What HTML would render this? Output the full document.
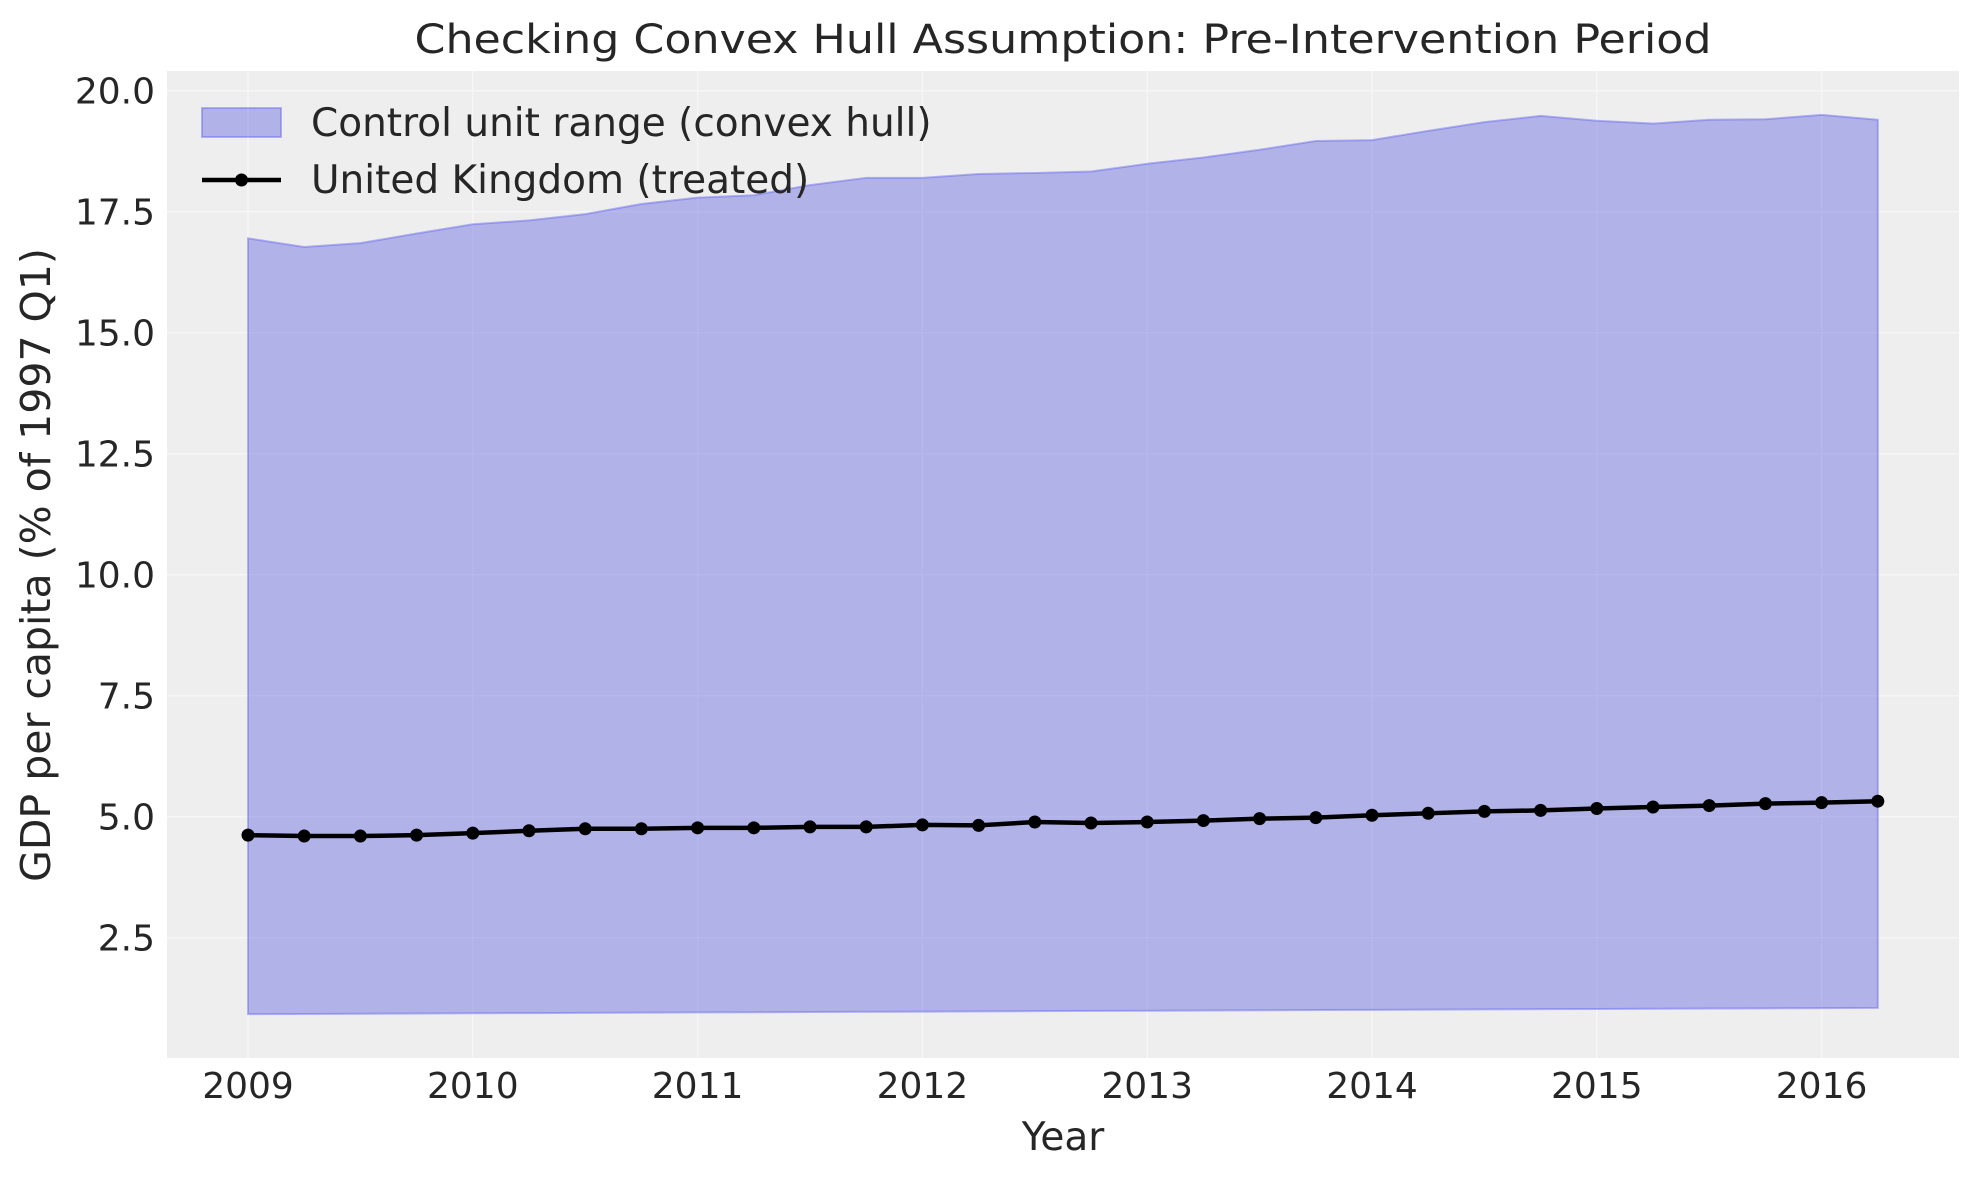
<!DOCTYPE html>
<html><head><meta charset="utf-8"><style>
html,body{margin:0;padding:0;background:#fff;}
svg{display:block;font-family:"DejaVu Sans","Liberation Sans",sans-serif;}
</style></head><body>
<svg width="1979" height="1178" viewBox="0 0 1979 1178" xmlns="http://www.w3.org/2000/svg">
<rect x="0" y="0" width="1979" height="1178" fill="#fff"/>
<rect x="167" y="71" width="1792" height="987" fill="#eeeeee"/>
<g stroke="#f6f6f6" stroke-width="1.5">
<line x1="167" x2="1959" y1="90.7" y2="90.7"/><line x1="167" x2="1959" y1="211.7" y2="211.7"/>
<line x1="167" x2="1959" y1="332.7" y2="332.7"/><line x1="167" x2="1959" y1="453.7" y2="453.7"/>
<line x1="167" x2="1959" y1="574.7" y2="574.7"/><line x1="167" x2="1959" y1="695.7" y2="695.7"/>
<line x1="167" x2="1959" y1="816.7" y2="816.7"/><line x1="167" x2="1959" y1="937.7" y2="937.7"/>
<line y1="71" y2="1058" x1="248" x2="248"/><line y1="71" y2="1058" x1="472.8" x2="472.8"/>
<line y1="71" y2="1058" x1="697.6" x2="697.6"/><line y1="71" y2="1058" x1="922.4" x2="922.4"/>
<line y1="71" y2="1058" x1="1147.2" x2="1147.2"/><line y1="71" y2="1058" x1="1372" x2="1372"/>
<line y1="71" y2="1058" x1="1596.8" x2="1596.8"/><line y1="71" y2="1058" x1="1821.6" x2="1821.6"/>
</g>
<polygon id="hull" fill="rgba(90,95,225,0.42)" stroke="rgba(100,100,240,0.45)" stroke-width="2" points=""/>
<polyline id="uk" fill="none" stroke="#000" stroke-width="4.5" points=""/>
<g id="dots"></g>
<g fill="#262626" font-size="36">
<text x="155" y="103.7" text-anchor="end">20.0</text>
<text x="155" y="224.7" text-anchor="end">17.5</text>
<text x="155" y="345.7" text-anchor="end">15.0</text>
<text x="155" y="466.7" text-anchor="end">12.5</text>
<text x="155" y="587.7" text-anchor="end">10.0</text>
<text x="155" y="708.7" text-anchor="end">7.5</text>
<text x="155" y="829.7" text-anchor="end">5.0</text>
<text x="155" y="950.7" text-anchor="end">2.5</text>
<text x="248" y="1098" text-anchor="middle">2009</text>
<text x="472.8" y="1098" text-anchor="middle">2010</text>
<text x="697.6" y="1098" text-anchor="middle">2011</text>
<text x="922.4" y="1098" text-anchor="middle">2012</text>
<text x="1147.2" y="1098" text-anchor="middle">2013</text>
<text x="1372" y="1098" text-anchor="middle">2014</text>
<text x="1596.8" y="1098" text-anchor="middle">2015</text>
<text x="1821.6" y="1098" text-anchor="middle">2016</text>
</g>
<text x="1063" y="1150" text-anchor="middle" font-size="39" fill="#262626">Year</text>
<text transform="translate(50,565) rotate(-90)" text-anchor="middle" font-size="41" fill="#262626">GDP per capita (% of 1997 Q1)</text>
<text x="1063" y="53" text-anchor="middle" font-size="40" fill="#262626" textLength="1297" lengthAdjust="spacingAndGlyphs">Checking Convex Hull Assumption: Pre-Intervention Period</text>
<rect x="202" y="108" width="79" height="29" fill="rgba(90,95,225,0.42)" stroke="rgba(100,100,240,0.45)" stroke-width="2"/>
<text x="311" y="136" font-size="39" fill="#262626">Control unit range (convex hull)</text>
<line x1="202" x2="281" y1="180" y2="180" stroke="#000" stroke-width="4.5"/>
<circle cx="241.5" cy="180" r="6.5" fill="#000"/>
<text x="311" y="193" font-size="39" fill="#262626">United Kingdom (treated)</text>
</svg>
<script>
(function(){
var up=[16.95,16.77,16.85,17.05,17.24,17.32,17.45,17.66,17.79,17.84,18.05,18.2,18.2,18.28,18.3,18.33,18.49,18.62,18.78,18.96,18.98,19.17,19.35,19.48,19.38,19.32,19.4,19.41,19.5,19.4];
var uk=[4.62,4.60,4.60,4.62,4.66,4.71,4.75,4.75,4.77,4.77,4.79,4.79,4.83,4.82,4.89,4.87,4.89,4.92,4.96,4.98,5.03,5.07,5.11,5.13,5.17,5.20,5.23,5.27,5.29,5.32];
function X(i){return 248+i*56.2;}function Y(v){return 90.7+(20-v)*48.4;}
var tp=[],bt=[],ln=[],d="";
for(var i=0;i<30;i++){tp.push(X(i)+","+Y(up[i]));ln.push(X(i)+","+Y(uk[i]));
d+='<circle cx="'+X(i)+'" cy="'+Y(uk[i])+'" r="6.5" fill="#000"/>';}
for(var j=29;j>=0;j--){bt.push(X(j)+","+Y(0.92+0.13*j/29));}
document.getElementById("hull").setAttribute("points",tp.concat(bt).join(" "));
document.getElementById("uk").setAttribute("points",ln.join(" "));
document.getElementById("dots").innerHTML=d;
})();
</script>
</body></html>
